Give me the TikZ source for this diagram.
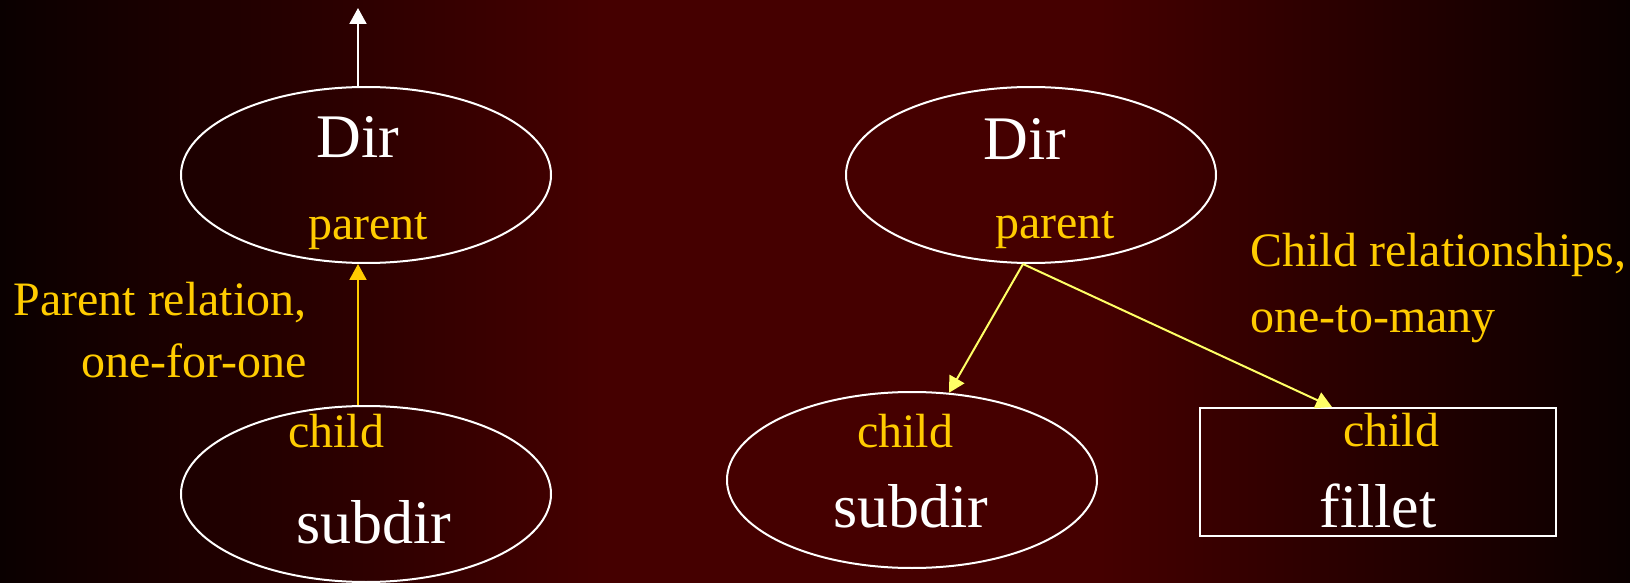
\documentclass[tikz,border=0pt]{standalone}
\usepackage{fontspec}
\setmainfont{Liberation Serif}
\usepackage{tikz}
\usetikzlibrary{shapes.geometric,arrows.meta}

\definecolor{bgdark}{HTML}{0A0000}
\definecolor{bgred}{HTML}{450000}
\definecolor{gold}{HTML}{FFCC00}
\definecolor{lemon}{HTML}{FFFF66}

% dark edges, flat red middle (path spans 25bp--75bp)
\pgfdeclarehorizontalshading{backdrop}{100bp}{color(0bp)=(bgdark); color(25bp)=(bgdark);
    color(43.5bp)=(bgred); color(58.7bp)=(bgred); color(75bp)=(bgdark); color(100bp)=(bgdark)}

\begin{document}
\begin{tikzpicture}[x=0.5pt,y=-0.5pt,
        obj/.style={draw=white, line width=1pt, ellipse, minimum width=185pt, minimum height=88pt, inner sep=0},
        big/.style={text=white, inner sep=0, anchor=base, font=\fontsize{31}{37}\selectfont},
        small/.style={text=gold, inner sep=0, anchor=base, font=\fontsize{24}{29}\selectfont},
        link/.style={line width=1pt, -{Triangle[length=8pt,width=8.5pt]}}]
        \useasboundingbox (0,0) rectangle (1630,583);
        \shade[shading=backdrop] (0,0) rectangle (1630,583);

        % left: one parent per dir
        \node[obj] (dirL) at (366,175) {};
        \node[obj] (subL) at (366,494) {};
        \node[big] (dirLtxt) at (358,158) {Dir};
        \node[small] (parL) at (368,240) {parent};
        \node[small] (chL) at (336,447) {child};
        \node[big] (subLtxt) at (374,543) {subdir};
        \node[small, anchor=base east] (relA) at (307,315) {Parent relation,};
        \node[small, anchor=base east] (relB) at (307,378) {one-for-one};
        \coordinate (up) at (358,8);
        \draw[link, white] (dirL.north -| up) -- (up);
        \draw[link, gold] (subL.north -| up) -- (dirL.south -| up);

        % right: one dir, many children
        \node[obj] (dirR) at (1031,175) {};
        \node[obj] (subR) at (912,480) {};
        \node[draw=white, line width=1pt, minimum width=178pt, minimum height=64pt, inner sep=0] (fil) at (1378,472) {};
        \node[big] (dirRtxt) at (1025,160) {Dir};
        \node[small] (parR) at (1055,239) {parent};
        \node[small] (chR) at (905,447) {child};
        \node[big] (subRtxt) at (911,527) {subdir};
        \node[small] (chF) at (1391,446) {child};
        \node[big] (filtxt) at (1378,527) {fillet};
        \node[small, anchor=base west] (relC) at (1250,267) {Child relationships,};
        \node[small, anchor=base west] (relD) at (1250,332) {one-to-many};
        \draw[link, lemon] ([xshift=-4pt]dirR.south) -- (subR.67);
        \draw[link, lemon] ([xshift=-4pt]dirR.south) -- ([xshift=-23pt]fil.north);
    \end{tikzpicture}
\end{document}
